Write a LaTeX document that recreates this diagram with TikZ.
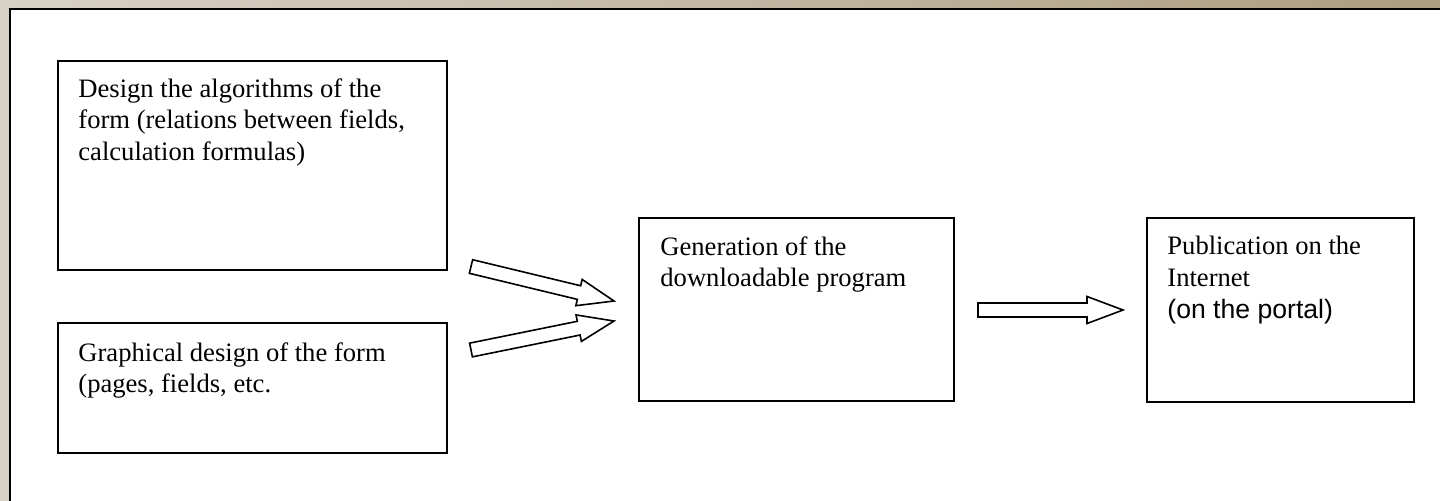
\documentclass[tikz,border=0pt]{standalone}
\usepackage{fontspec}
\setmainfont{Liberation Serif}
\setsansfont{Liberation Sans}
\usetikzlibrary{calc}
\definecolor{paperleft}{RGB}{216,209,198}
\definecolor{paperright}{RGB}{172,158,128}
\begin{document}
\begin{tikzpicture}[x=0.5pt,y=-0.5pt,
    stage/.style={draw,line width=1pt,inner sep=0pt},
    stagetext/.style={anchor=north west,inner sep=0pt,align=left,
      font=\fontsize{13.3pt}{15.8pt}\selectfont},
    fat/.style={draw,fill=white,line width=0.8pt,line join=miter}]
    \useasboundingbox (0,0) rectangle (1440,500);
    \shade[left color=paperleft,right color=paperright] (0,0) rectangle (1440,500);
    \fill[white] (10,9) rectangle (1460,520);
    \draw[line width=1pt] (10,520) -- (10,9) -- (1460,9);
    \node[stage,minimum width=194.5pt,minimum height=104.5pt] (algo) at (252.5,165.5) {};
    \node[stage,minimum width=194.5pt,minimum height=65pt] (layout) at (252.5,388) {};
    \node[stage,minimum width=157.5pt,minimum height=91.5pt] (generate) at (796.5,309.5) {};
    \node[stage,minimum width=133.5pt,minimum height=92pt] (publish) at (1280.5,310) {};
    \node[stagetext] (algotext) at ($(algo.north west)+(21,18)$)
      {Design the algorithms of the\\form (relations between fields,\\calculation formulas)};
    \node[stagetext] (layouttext) at ($(layout.north west)+(21,20)$)
      {Graphical design of the form\\(pages, fields, etc.};
    \node[stagetext] (generatetext) at ($(generate.north west)+(22,19)$)
      {Generation of the\\downloadable program};
    \node[stagetext] (publishtext) at ($(publish.north west)+(21,19)$)
      {Publication on the\\Internet\\{\sffamily (on the portal)}};
    \coordinate (t1) at (471,266.5);
    \coordinate (h1) at (614,301);
    \coordinate (t2) at (471,350);
    \coordinate (h2) at (614,321);
    \coordinate (t3) at (978,310);
    \coordinate (h3) at (1123,310);
    \foreach \a/\b in {t1/h1,t2/h2,t3/h3}{
      \coordinate (\a b) at ($(\b)!18pt!(\a)$);
      \draw[fat] ($(\a)!3.5pt!90:(\b)$) -- ($(\a b)!3.5pt!90:(\b)$)
        -- ($(\a b)!6.75pt!90:(\b)$) -- (\b) -- ($(\a b)!6.75pt!-90:(\b)$)
        -- ($(\a b)!3.5pt!-90:(\b)$) -- ($(\a)!3.5pt!-90:(\b)$) -- cycle;
    }
\end{tikzpicture}
\end{document}
